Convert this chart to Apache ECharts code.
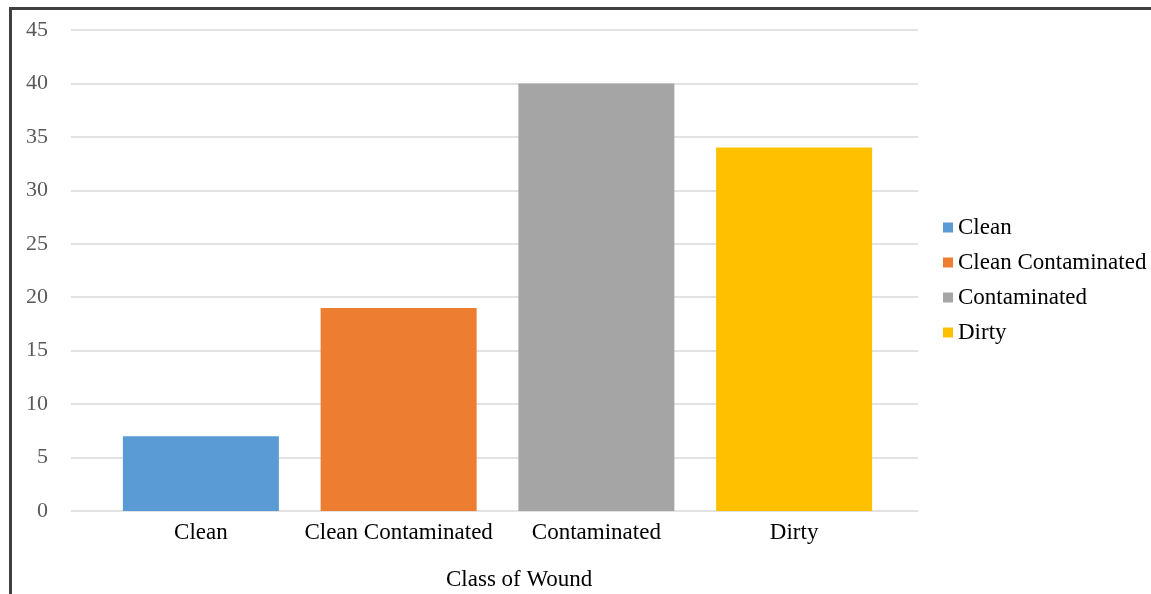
<!DOCTYPE html>
<html>
<head>
<meta charset="utf-8">
<script src="https://cdn.jsdelivr.net/npm/echarts@6/dist/echarts.min.js"></script>
<style>
  html, body { margin: 0; padding: 0; background: #fff; }
  #chart { width: 1151px; height: 594px; }
</style>
</head>
<body>
<div id="chart"></div>
<script>
// Wound classes and counts
const categories = ['Clean', 'Clean Contaminated', 'Contaminated', 'Dirty'];
const counts = [7, 19, 40, 34];
const colors = ['#5b9bd5', '#ed7d31', '#a5a5a5', '#ffc000'];
const yTicks = { min: 0, max: 45, step: 5 };
const axisTitle = 'Class of Wound';

const serif = '"Liberation Serif", "Times New Roman", serif';

const chart = echarts.init(document.getElementById('chart'), null, { renderer: 'canvas' });

// one series per class so each gets its own legend entry; overlapping slots keep one bar per category
const series = categories.map((name, i) => ({
  name: name,
  type: 'bar',
  xAxisIndex: 1,
  yAxisIndex: 1,
  barWidth: 156,
  barGap: '-100%',
  itemStyle: { color: colors[i] },
  data: categories.map((c, j) => (j === i ? counts[i] : '-'))
}));

chart.setOption({
  animation: false,
  backgroundColor: '#ffffff',
  grid: [
    { left: 71, right: 233, top: 30, bottom: 83 },
    { left: 102, right: 258, top: 30, bottom: 83 }
  ],
  xAxis: [
    { type: 'category', gridIndex: 0, data: categories, show: false },
    {
      type: 'category', gridIndex: 1, data: categories,
      axisLine: { show: false }, axisTick: { show: false },
      axisLabel: { interval: 0, color: '#000', fontFamily: serif, fontSize: 23, margin: 10 }
    }
  ],
  yAxis: [
    {
      type: 'value', gridIndex: 0, min: yTicks.min, max: yTicks.max, interval: yTicks.step,
      axisLine: { show: false }, axisTick: { show: false },
      axisLabel: { color: '#595959', fontFamily: serif, fontSize: 22, margin: 23 },
      splitLine: { lineStyle: { color: '#d9d9d9', width: 1.5 } }
    },
    {
      type: 'value', gridIndex: 1, min: yTicks.min, max: yTicks.max, interval: yTicks.step,
      show: false, splitLine: { show: false }
    }
  ],
  legend: {
    orient: 'vertical',
    left: 938,
    top: 211,
    itemWidth: 10,
    itemHeight: 10,
    itemGap: 12,
    icon: 'rect',
    textStyle: { color: '#000', fontFamily: serif, fontSize: 23 },
    data: categories
  },
  graphic: [
    {
      type: 'text', left: 446, top: 568,
      style: { text: axisTitle, fill: '#000', font: '23px ' + serif }
    },
    { type: 'line', shape: { x1: 10.5, y1: 8, x2: 10.5, y2: 594 }, style: { stroke: '#404040', lineWidth: 3 } },
    { type: 'line', shape: { x1: 9, y1: 8.5, x2: 1151, y2: 8.5 }, style: { stroke: '#404040', lineWidth: 3 } }
  ],
  series: series
});
</script>
</body>
</html>
